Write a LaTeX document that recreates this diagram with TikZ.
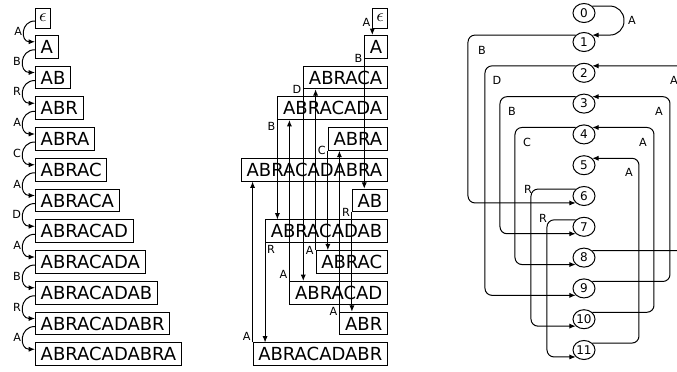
\documentclass[tikz,border=0pt]{standalone}
\usepackage{fontspec}
\setmainfont{DejaVu Sans}
\usetikzlibrary{arrows.meta,shapes.geometric,calc}

\begin{document}
\begin{tikzpicture}[x=0.5pt,y=-0.5pt,line width=0.5pt]
  \tikzstyle{word}=[draw, font=\fontsize{9}{10}\selectfont, inner xsep=2.6pt, inner ysep=2.4pt, text height=6.5pt, text depth=0pt]
  \tikzstyle{empty}=[draw, font=\fontsize{9.5}{10}\selectfont, inner xsep=1.8pt, inner ysep=0pt, minimum height=10pt]
  \tikzstyle{state}=[ellipse, draw, inner sep=0pt, minimum width=11pt, minimum height=9.5pt, font=\fontsize{6}{7}\selectfont]
  \tikzstyle{lab}=[font=\fontsize{5.6}{6}\selectfont, inner sep=0.8pt]
  \tikzstyle{trans}=[-{Latex[length=3.2pt,width=2.6pt]}]
  \tikzstyle{route}=[trans, rounded corners=3.5pt]

\useasboundingbox (0,0) rectangle (677,371);

% prefixes in order of length
\node [empty, anchor=west] (l0)  at (35,18)     {$\epsilon$};
\node [word, anchor=west]  (l1)  at (35,46.75)  {A};
\node [word, anchor=west]  (l2)  at (35,77.5)   {AB};
\node [word, anchor=west]  (l3)  at (35,108.25) {ABR};
\node [word, anchor=west]  (l4)  at (35,139)    {ABRA};
\node [word, anchor=west]  (l5)  at (35,169.75) {ABRAC};
\node [word, anchor=west]  (l6)  at (35,200.5)  {ABRACA};
\node [word, anchor=west]  (l7)  at (35,231.25) {ABRACAD};
\node [word, anchor=west]  (l8)  at (35,262)    {ABRACADA};
\node [word, anchor=west]  (l9)  at (35,292.75) {ABRACADAB};
\node [word, anchor=west]  (l10) at (35,323.5)  {ABRACADABR};
\node [word, anchor=west]  (l11) at (35,354.25) {ABRACADABRA};

\draw[trans] ([yshift=-1.5pt]l0.west) to [out=180,in=180,looseness=1.8] node[lab,left] (a1) {A} ([yshift=2.5pt]l1.west);
\draw[trans] ([yshift=-1.5pt]l1.west) to [out=180,in=180,looseness=1.8] node[lab,left] (a2) {B} ([yshift=2.5pt]l2.west);
\draw[trans] ([yshift=-1.5pt]l2.west) to [out=180,in=180,looseness=1.8] node[lab,left] (a3) {R} ([yshift=2.5pt]l3.west);
\draw[trans] ([yshift=-1.5pt]l3.west) to [out=180,in=180,looseness=1.8] node[lab,left] (a4) {A} ([yshift=2.5pt]l4.west);
\draw[trans] ([yshift=-1.5pt]l4.west) to [out=180,in=180,looseness=1.8] node[lab,left] (a5) {C} ([yshift=2.5pt]l5.west);
\draw[trans] ([yshift=-1.5pt]l5.west) to [out=180,in=180,looseness=1.8] node[lab,left] (a6) {A} ([yshift=2.5pt]l6.west);
\draw[trans] ([yshift=-1.5pt]l6.west) to [out=180,in=180,looseness=1.8] node[lab,left] (a7) {D} ([yshift=2.5pt]l7.west);
\draw[trans] ([yshift=-1.5pt]l7.west) to [out=180,in=180,looseness=1.8] node[lab,left] (a8) {A} ([yshift=2.5pt]l8.west);
\draw[trans] ([yshift=-1.5pt]l8.west) to [out=180,in=180,looseness=1.8] node[lab,left] (a9) {B} ([yshift=2.5pt]l9.west);
\draw[trans] ([yshift=-1.5pt]l9.west) to [out=180,in=180,looseness=1.8] node[lab,left] (a10) {R} ([yshift=2.5pt]l10.west);
\draw[trans] ([yshift=-1.5pt]l10.west) to [out=180,in=180,looseness=1.8] node[lab,left] (a11) {A} ([yshift=2.5pt]l11.west);

% same prefixes, reordered and flush right
\node [empty, anchor=east] (m0)  at (388,18)     {$\epsilon$};
\node [word, anchor=east]  (m1)  at (388,46.75)  {A};
\node [word, anchor=east]  (m2)  at (388,77.5)   {ABRACA};
\node [word, anchor=east]  (m3)  at (388,108.25) {ABRACADA};
\node [word, anchor=east]  (m4)  at (388,139)    {ABRA};
\node [word, anchor=east]  (m5)  at (388,169.75) {ABRACADABRA};
\node [word, anchor=east]  (m6)  at (388,200.5)  {AB};
\node [word, anchor=east]  (m7)  at (388,231.25) {ABRACADAB};
\node [word, anchor=east]  (m8)  at (388,262)    {ABRAC};
\node [word, anchor=east]  (m9)  at (388,292.75) {ABRACAD};
\node [word, anchor=east]  (m10) at (388,323.5)  {ABR};
\node [word, anchor=east]  (m11) at (388,354.25) {ABRACADABR};

\draw[trans] (m0.south west)  node[lab,above left] (b1) {A}  -- (m0.south west |- m1.north);
\draw[trans] (m1.south west)  node[lab,left] (b2) {B}        -- (m1.south west |- m6.north);
\draw[trans] (m6.south west)  node[lab,left] (b3) {R}        -- (m6.south west |- m10.north);
\draw[trans] (m10.north west) node[lab,left] (b4) {A}        -- (m10.north west |- m4.south);
\draw[trans] (m4.south west)  node[lab,left] (b5) {C}        -- (m4.south west |- m8.north);
\draw[trans] (m8.north west)  node[lab,left] (b6) {A}        -- (m8.north west |- m2.south);
\draw[trans] (m2.south west)  node[lab,left] (b7) {D}        -- (m2.south west |- m9.north);
\draw[trans] (m9.north west)  node[lab,above left] (b8) {A}  -- (m9.north west |- m3.south);
\draw[trans] (m3.south west)  node[lab,below left] (b9) {B}  -- (m3.south west |- m7.north);
\draw[trans] (m7.south west)  node[lab,below right] (b10) {R} -- (m7.south west |- m11.north);
\draw[trans] (m11.north west) node[lab,above left] (b11) {A} -- (m11.north west |- m5.south);

% numbered states
\node [state] (s0)  at (584,13)    {0};
\node [state] (s1)  at (584,42)    {1};
\node [state] (s2)  at (584,72.8)  {2};
\node [state] (s3)  at (584,103.6) {3};
\node [state] (s4)  at (584,134.4) {4};
\node [state] (s5)  at (584,165.2) {5};
\node [state] (s6)  at (584,196)   {6};
\node [state] (s7)  at (584,226.8) {7};
\node [state] (s8)  at (584,257.6) {8};
\node [state] (s9)  at (584,288.4) {9};
\node [state] (s10) at (584,319.2) {10};
\node [state] (s11) at (584,350)   {11};

\coordinate (v0_1)  at (624,0);
\coordinate (v1_6)  at (468,0);
\coordinate (v2_9)  at (485,0);
\coordinate (v3_7)  at (500,0);
\coordinate (v4_8)  at (515,0);
\coordinate (v6_10) at (531,0);
\coordinate (v7_11) at (547,0);
\coordinate (v8_2)  at (685,0);
\coordinate (v9_3)  at (670,0);
\coordinate (v10_4) at (654,0);
\coordinate (v11_5) at (639,0);

\draw[route, rounded corners=7pt] (s0.40) -| (v0_1 |- s1.40) -- (s1.40);
\draw[route] (s1.140) -| (v1_6 |- s6.220)  -- (s6.220);
\draw[route] (s2.140) -| (v2_9 |- s9.220)  -- (s9.220);
\draw[route] (s3.140) -| (v3_7 |- s7.220)  -- (s7.220);
\draw[route] (s4.140) -| (v4_8 |- s8.220)  -- (s8.220);
\draw[route] (s6.140) -| (v6_10 |- s10.220) -- (s10.220);
\draw[route] (s7.140) -| (v7_11 |- s11.220) -- (s11.220);
\draw[route] (s8.40)  -| (v8_2 |- s2.40)   -- (s2.40);
\draw[route] (s9.40)  -| (v9_3 |- s3.40)   -- (s3.40);
\draw[route] (s10.40) -| (v10_4 |- s4.40)  -- (s4.40);
\draw[route] (s11.40) -| (v11_5 |- s5.40)  -- (s5.40);

\node[lab] (c1)  at ($(v0_1 |- s0)+(8,7)$)        {A};
\node[lab] (c2)  at ($(v1_6 |- s1.140)+(14,15)$)  {B};
\node[lab] (c3)  at ($(v2_9 |- s2.140)+(12,14.5)$) {D};
\node[lab] (c4)  at ($(v3_7 |- s3.140)+(12,15)$)  {B};
\node[lab] (c5)  at ($(v4_8 |- s4.140)+(12,15)$)  {C};
\node[lab] (c6)  at ($(v6_10 |- s6.140)+(-3,0)$)  {R};
\node[lab] (c7)  at ($(v7_11 |- s7.140)+(-4,-1)$) {R};
\node[lab] (c8)  at ($(v8_2 |- s2.40)+(-11,14.5)$) {A};
\node[lab] (c9)  at ($(v9_3 |- s3.40)+(-11,15)$)  {A};
\node[lab] (c10) at ($(v10_4 |- s4.40)+(-11,15)$) {A};
\node[lab] (c11) at ($(v11_5 |- s5.40)+(-10,14.5)$) {A};

\end{tikzpicture}
\end{document}
